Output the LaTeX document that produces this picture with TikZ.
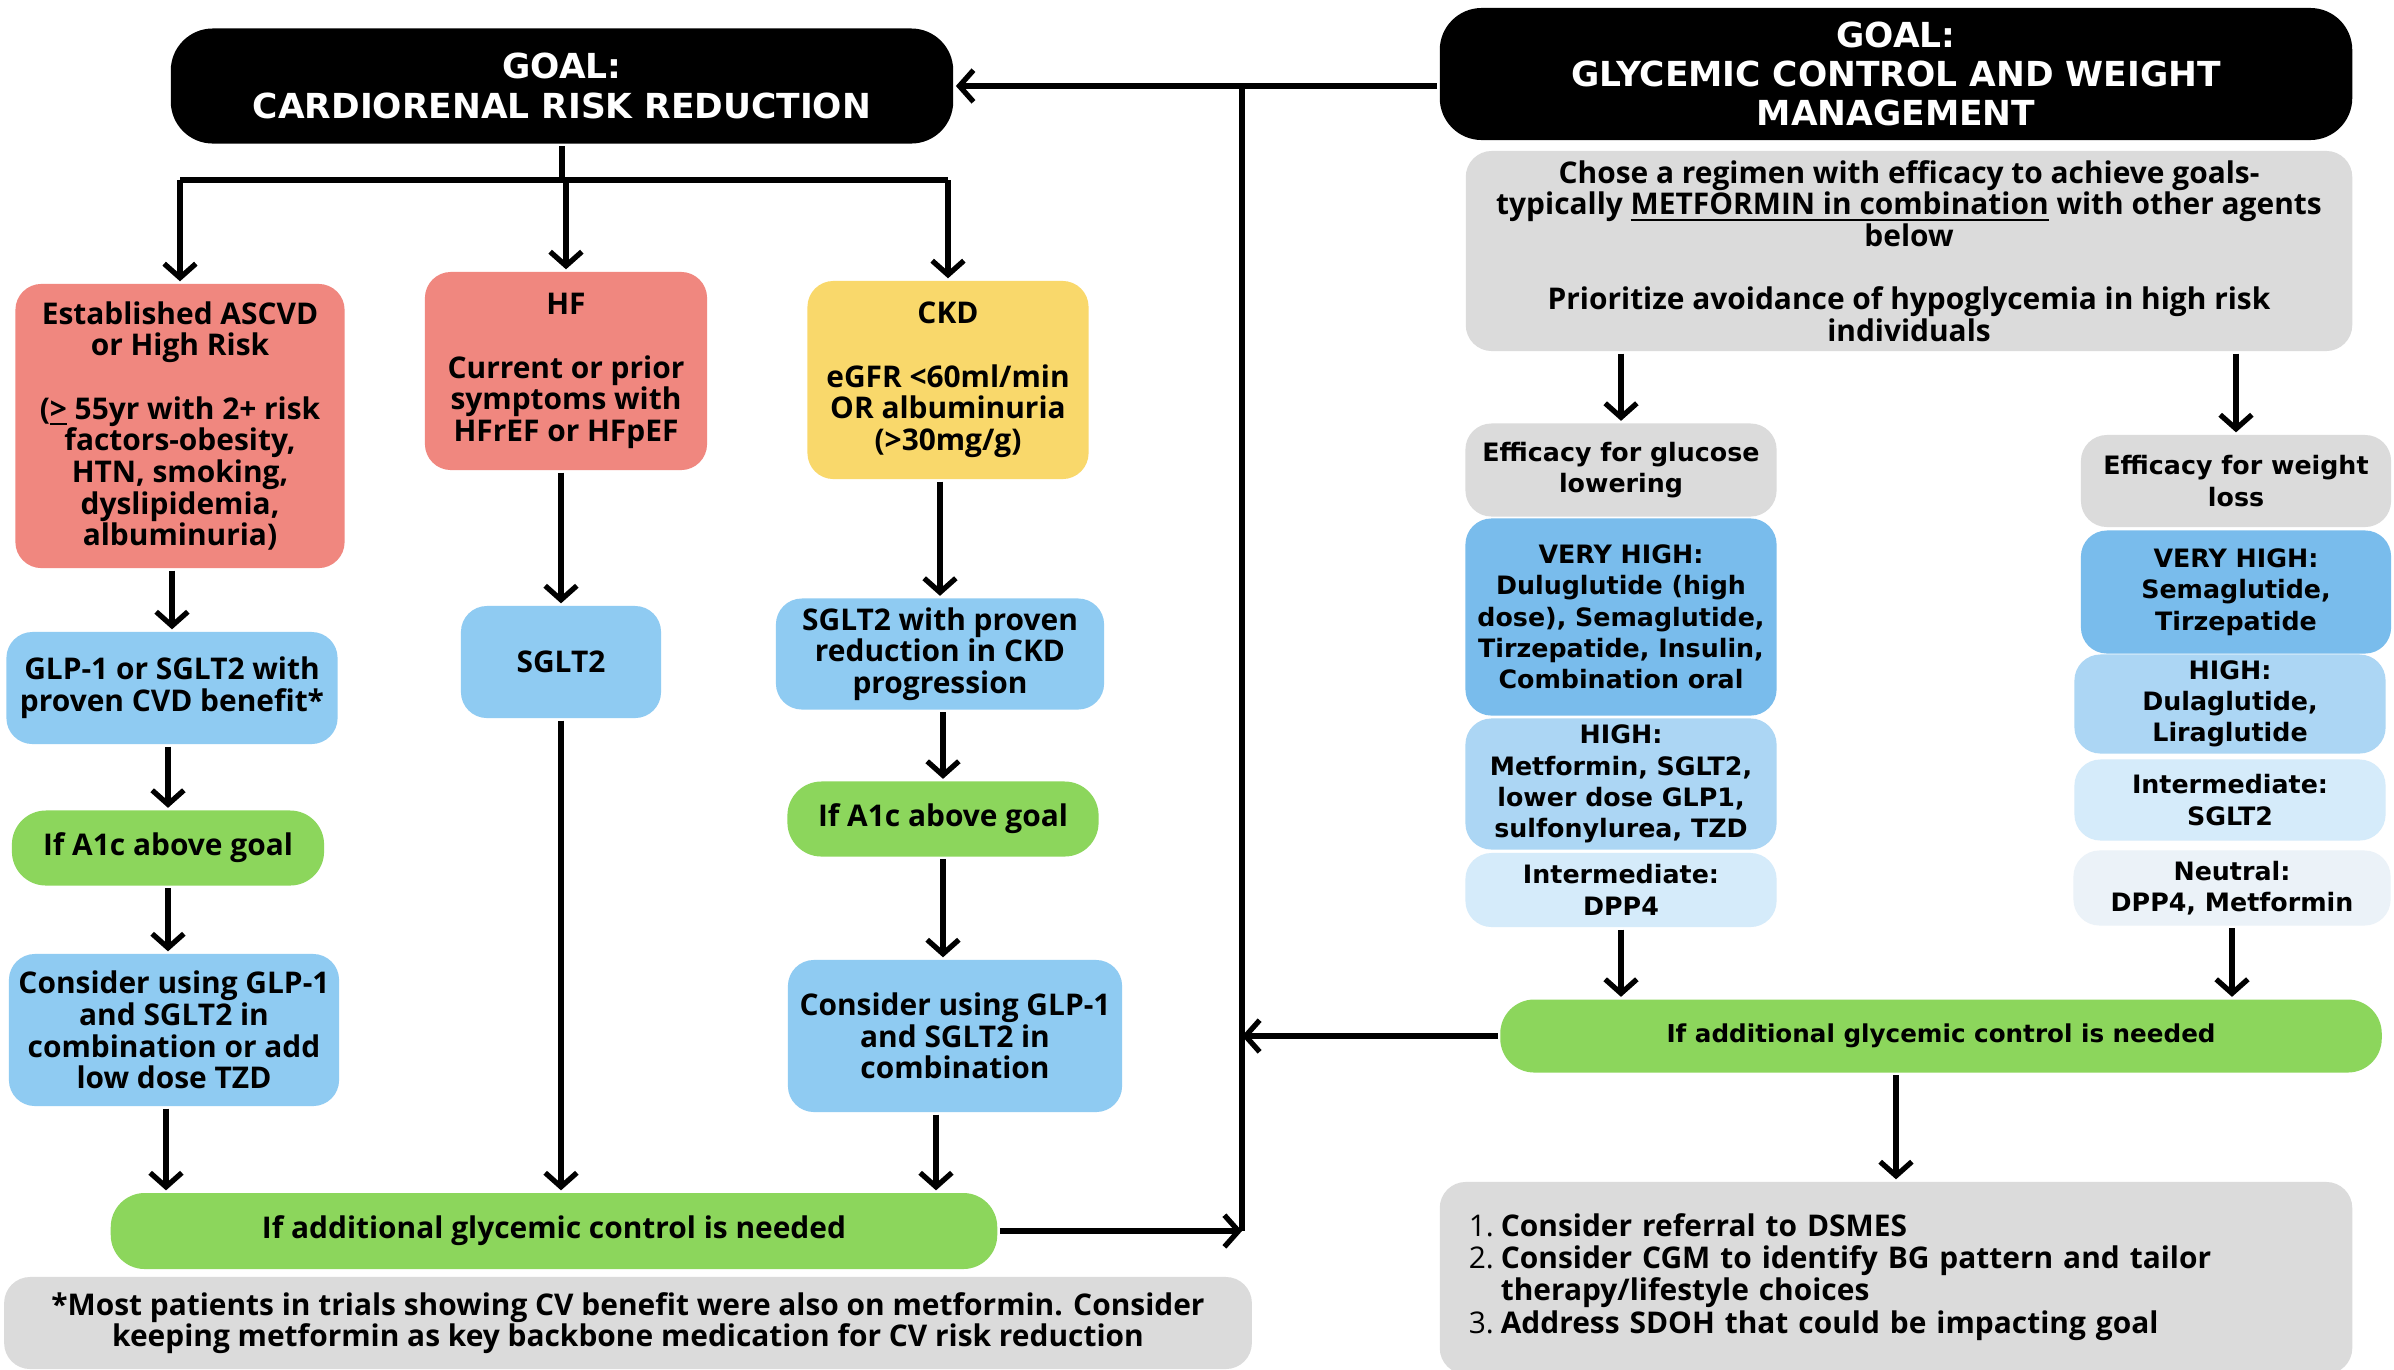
\documentclass[tikz,border=0pt]{standalone}
\usepackage{fontspec}
\setmainfont{Open Sans}
\newfontfamily\widesans{DejaVu Sans}
\usepackage{tikz}
\usetikzlibrary{arrows.meta,calc}
\definecolor{riskred}{HTML}{F0877F}
\definecolor{ckdyel}{HTML}{F9D86B}
\definecolor{drugblue}{HTML}{8FCBF2}
\definecolor{stepgreen}{HTML}{8CD65C}
\definecolor{notegray}{HTML}{DBDBDB}
\definecolor{tierA}{HTML}{79BCEC}
\definecolor{tierB}{HTML}{ACD6F4}
\definecolor{tierC}{HTML}{D5EBFA}
\definecolor{tierD}{HTML}{EBF2F8}

\begin{document}
\begin{tikzpicture}[x=0.01cm, y=-0.01cm, >={Straight Barb[length=4pt,width=9pt]}, line width=1.5pt,
  card/.style={align=center, inner sep=0pt, rounded corners=0.26cm, font=\bfseries\fontsize{8.5}{9}\selectfont},
  goal/.style={card, fill=black, text=white, rounded corners=0.42cm, font=\widesans\bfseries\fontsize{9.8}{11.2}\selectfont},
  tier/.style={card, font=\widesans\bfseries\fontsize{7.2}{8.9}\selectfont},
  pill/.style={card, fill=stepgreen, rounded corners=0.34cm},
  wh/.style 2 args={minimum width=#1cm, minimum height=#2cm}]
  \useasboundingbox (0,0) rectangle (2394,1369);
  \clip (0,0) rectangle (2394,1369);
  \fill[white] (0,0) rectangle (2394,1369);

  \node[goal, wh={7.82}{1.15}] (goalCR) at (562,86) {GOAL:\\CARDIORENAL RISK REDUCTION};
  \node[card, fill=riskred, wh={3.29}{2.84}] (ascvd) at (180,426)
    {Established ASCVD\\or High Risk\\[9pt](\underline{>} 55yr with 2+ risk\\factors-obesity,\\HTN, smoking,\\dyslipidemia,\\albuminuria)};
  \node[card, fill=riskred, wh={2.82}{1.98}] (hf) at (566,371) {HF\\[9pt]Current or prior\\symptoms with\\HFrEF or HFpEF};
  \node[card, fill=ckdyel, wh={2.81}{1.98}] (ckd) at (948,380) {CKD\\[9pt]eGFR <60ml/min\\OR albuminuria\\(>30mg/g)};
  \node[card, fill=drugblue, wh={3.31}{1.12}] (glpL) at (172,688) {GLP-1 or SGLT2 with\\proven CVD benefit*};
  \node[card, fill=drugblue, wh={2.00}{1.12}] (sgltH) at (561,662) {SGLT2};
  \node[card, fill=drugblue, wh={3.28}{1.11}] (sgltC) at (940,654) {SGLT2 with proven\\reduction in CKD\\progression};
  \node[pill, wh={3.12}{0.75}] (a1cL) at (168,848) {If A1c above goal};
  \node[pill, wh={3.11}{0.75}] (a1cR) at (943,819) {If A1c above goal};
  \node[card, fill=drugblue, wh={3.30}{1.52}] (conL) at (174,1030) {Consider using GLP-1\\and SGLT2 in\\combination or add\\low dose TZD};
  \node[card, fill=drugblue, wh={3.34}{1.52}] (conR) at (955,1036) {Consider using GLP-1\\and SGLT2 in\\combination};
  \node[pill, wh={8.86}{0.76}] (gnL) at (554,1231) {If additional glycemic control is needed};
  \node[card, fill=notegray, wh={12.47}{0.92}] (foot) at (628,1323)
    {*Most patients in trials showing CV benefit were also on metformin. Consider\\keeping metformin as key backbone medication for CV risk reduction};

  \node[goal, wh={9.12}{1.32}] (goalGW) at (1896,74) {GOAL:\\GLYCEMIC CONTROL AND WEIGHT\\MANAGEMENT};
  \node[card, fill=notegray, wh={8.86}{2.00}] (regB) at (1909,251)
    {Chose a regimen with efficacy to achieve goals-\\typically \underline{METFORMIN in combination} with other agents\\below\\[9pt]Prioritize avoidance of hypoglycemia in high risk\\individuals};
  \node[tier, fill=notegray, wh={3.11}{0.93}] (effG) at (1621,470) {Efficacy for glucose\\lowering};
  \node[tier, fill=tierA, wh={3.11}{1.97}] (vhG) at (1621,617) {VERY HIGH:\\Duluglutide (high\\dose), Semaglutide,\\Tirzepatide, Insulin,\\Combination oral};
  \node[tier, fill=tierB, wh={3.11}{1.31}] (hiG) at (1621,784) {HIGH:\\Metformin, SGLT2,\\lower dose GLP1,\\sulfonylurea, TZD};
  \node[tier, fill=tierC, wh={3.11}{0.74}] (imG) at (1621,890) {Intermediate:\\DPP4};
  \node[tier, fill=notegray, wh={3.10}{0.92}] (effW) at (2236,481) {Efficacy for weight\\loss};
  \node[tier, fill=tierA, wh={3.10}{1.23}] (vhW) at (2236,592) {VERY HIGH:\\Semaglutide,\\Tirzepatide};
  \node[tier, fill=tierB, wh={3.11}{0.99}] (hiW) at (2230,704) {HIGH:\\Dulaglutide,\\Liraglutide};
  \node[tier, fill=tierC, wh={3.11}{0.81}] (imW) at (2230,800) {Intermediate:\\SGLT2};
  \node[tier, fill=tierD, wh={3.17}{0.75}] (neW) at (2232,888) {Neutral:\\DPP4, Metformin};
  \node[pill, wh={8.81}{0.73}, font=\widesans\bfseries\fontsize{7}{8.9}\selectfont] (addR) at (1941,1036) {If additional glycemic control is needed};
  \node[card, fill=notegray, wh={9.12}{1.92}, text width=8.54cm, align=left] (lstB) at (1896,1278)
    {\begin{tabular}{@{}r@{\hspace{2pt}}l@{}}
      {\mdseries 1.} & Consider referral to DSMES\\
      {\mdseries 2.} & Consider CGM to identify BG pattern and tailor\\
       & therapy/lifestyle choices\\
      {\mdseries 3.} & Address SDOH that could be impacting goal
    \end{tabular}};

  \coordinate (split) at (562,180);
  \coordinate (bus) at (1242,86);
  \draw (goalCR.south) -- (split);
  \draw (split -| ascvd.north) -- (split -| ckd.north);
  \draw[->] (split -| ascvd.north) -- (ascvd.north);
  \draw[->] (split -| hf.north) -- (hf.north);
  \draw[->] (split -| ckd.north) -- (ckd.north);
  \draw[->] (glpL.north |- ascvd.south) -- (glpL.north);
  \draw[->] (a1cL.north |- glpL.south) -- (a1cL.north);
  \draw[->] (a1cL.south) -- (conL.north -| a1cL.south);
  \draw[->] ($(conL.south)+(-8,0)$) -- ($(gnL.north -| conL.south)+(-8,0)$);
  \draw[->] (sgltH.north |- hf.south) -- (sgltH.north);
  \draw[->] (sgltH.south) -- (gnL.north -| sgltH.south);
  \draw[->] (sgltC.north |- ckd.south) -- (sgltC.north);
  \draw[->] (a1cR.north |- sgltC.south) -- (a1cR.north);
  \draw[->] (a1cR.south) -- (conR.north -| a1cR.south);
  \draw[->] ($(conR.south)+(-19,0)$) -- ($(gnL.north -| conR.south)+(-19,0)$);
  \draw (bus) -- (bus |- gnL.east);
  \draw[->] (goalGW.west |- goalCR.east) -- (goalCR.east);
  \draw[->] (gnL.east) -- (gnL.east -| bus);
  \draw[->] (addR.west) -- (addR.west -| bus);
  \draw[->] (effG.north |- regB.south) -- (effG.north);
  \draw[->] (effW.north |- regB.south) -- (effW.north);
  \draw[->] (imG.south) -- (addR.north -| imG.south);
  \draw[->] (neW.south) -- (addR.north -| neW.south);
  \draw[->] (lstB.north |- addR.south) -- (lstB.north);
\end{tikzpicture}
\end{document}
